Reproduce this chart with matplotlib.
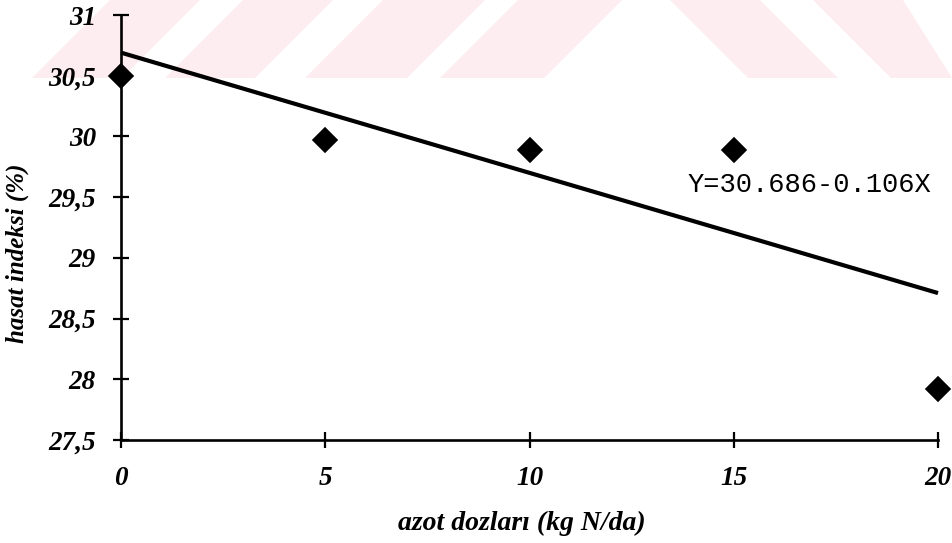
import matplotlib
matplotlib.use("Agg")
import matplotlib.pyplot as plt
from matplotlib.patches import Polygon

# ---- data ----
doses = [0, 5, 10, 15, 20]
harvest_index = [30.50, 29.97, 29.89, 29.89, 27.92]
trend_x = [0, 20]
trend_y = [30.69, 28.71]
equation = "Y=30.686-0.106X"
x_ticks = [0, 5, 10, 15, 20]
x_tick_labels = ["0", "5", "10", "15", "20"]
y_ticks = [27.5, 28, 28.5, 29, 29.5, 30, 30.5, 31]
y_tick_labels = ["27,5", "28", "28,5", "29", "29,5", "30", "30,5", "31"]
x_title = "azot dozları (kg N/da)"
y_title = "hasat indeksi (%)"

W, H = 952, 543
fig = plt.figure(figsize=(W / 100, H / 100), dpi=100)

# faint watermark stripes (pixel coords in the top band)
band_h = 78
left_stripes = [(110, 200), (243, 333), (383, 485), (518, 622)]
right_stripes = [(670, 760), (813, 903)]
wm_color = "#fdedf0"
for x0, x1 in left_stripes:
    pts = [(x0, 0), (x1, 0), (x1 - band_h, band_h), (x0 - band_h, band_h)]
    fig.patches.append(Polygon([(px / W, 1 - py / H) for px, py in pts], closed=True,
                               transform=fig.transFigure, facecolor=wm_color,
                               edgecolor="none", zorder=-5))
for x0, x1 in right_stripes:
    pts = [(x0, 0), (x1, 0), (x1 + band_h, band_h), (x0 + band_h, band_h)]
    fig.patches.append(Polygon([(min(px, W) / W, 1 - py / H) for px, py in pts], closed=True,
                               transform=fig.transFigure, facecolor=wm_color,
                               edgecolor="none", zorder=-5))

ax_left, ax_right, ax_top, ax_bottom = 121, 938, 15, 440
ax = fig.add_axes([ax_left / W, 1 - ax_bottom / H, (ax_right - ax_left) / W, (ax_bottom - ax_top) / H])
ax.set_facecolor("none")
ax.set_zorder(2)

ax.plot(trend_x, trend_y, color="black", lw=3.0, solid_capstyle="butt", zorder=3, clip_on=False)
ax.plot(doses, harvest_index, linestyle="none", marker="D", ms=12, color="black",
        mec="black", mew=1.2, zorder=4, clip_on=False)

ax.set_xlim(0, 20)
ax.set_ylim(27.5, 31)
for s in ["top", "right"]:
    ax.spines[s].set_visible(False)
for s in ["left", "bottom"]:
    ax.spines[s].set_linewidth(1.9)
    ax.spines[s].set_color("black")

tick_font = dict(family="Liberation Serif", style="italic", weight="bold", size=19.5)
ax.set_xticks(x_ticks)
ax.set_xticklabels(x_tick_labels, fontdict=tick_font)
ax.set_yticks(y_ticks)
ax.set_yticklabels(y_tick_labels, fontdict=tick_font)
ax.tick_params(axis="both", direction="inout", length=12, width=1.6, color="black")
ax.tick_params(axis="y", pad=12)
ax.tick_params(axis="x", pad=13)

xlabel_font = dict(family="Liberation Serif", style="italic", weight="bold", size=20)
ylabel_font = dict(family="Liberation Serif", style="italic", weight="bold", size=18)
fig.text(522 / W, 1 - 523 / H, x_title, ha="center", va="center", fontdict=xlabel_font)
fig.text(17 / W, 1 - 253 / H, y_title, ha="center", va="center", rotation=90, fontdict=ylabel_font)

ax.text(13.86, 29.60, equation, ha="left", va="center", family="Liberation Mono", size=19.5, color="black")

fig.savefig("out.png", dpi=100)
